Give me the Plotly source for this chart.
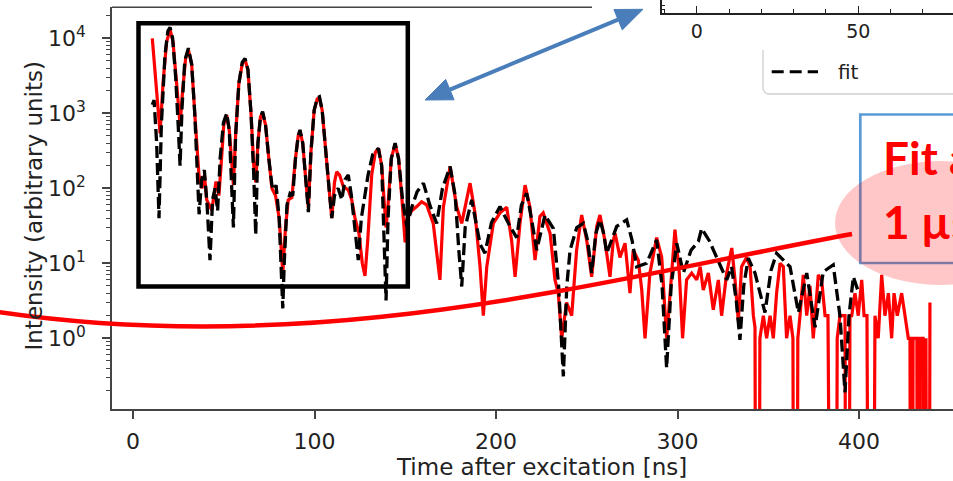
import plotly.graph_objects as go

# ---------------- data ----------------
fit_t = [10.6, 11.6, 13.0, 14.3, 15.6, 17.6, 19.2, 20.4, 21.8, 23.5, 25.0, 25.9, 27.0, 28.5, 30.5,
         32.3, 34.0, 35.3, 36.4, 37.8, 39.3, 40.8, 42.4, 43.8, 45.2, 46.6, 48.0, 49.8, 51.6, 53.0,
         54.3, 55.3, 56.5, 58.3, 60.2, 61.7, 63.3, 65.0, 66.5, 67.6, 68.8, 70.2, 71.4, 73.0, 74.8,
         76.5, 77.5, 78.8, 80.5, 81.8, 82.5, 83.3, 84.8, 86.5, 88.0, 89.5, 91.0, 92.0, 93.5, 95.3,
         96.6, 98.0, 99.8, 101.5, 102.7, 104.2, 106.2, 108.0, 109.5, 111.0, 113.0, 115.0, 116.8,
         118.6, 120.3, 122.3, 124.1, 125.8, 127.5, 129.5, 132.0, 135.2, 137.0, 138.5, 139.4, 140.5,
         142.3, 144.4, 146.3, 148.5, 150.8, 153.5, 156.5, 160.0, 163.5, 167.3, 170.5, 174.7, 177.5,
         179.5, 181.1, 183.0, 186.6, 191.2, 193.9, 197.5, 202.2, 207.7, 211.4, 214.0, 216.9, 219.5,
         222.4, 227.0, 231.6, 234.5, 237.1, 239.0, 240.8, 244.5, 248.1, 250.5, 252.7, 255.0, 257.3,
         259.3, 261.0, 266.5, 272.0, 275.0, 277.5, 283.0, 288.5, 291.5, 294.0, 296.5, 299.6, 303.2,
         307.5, 311.5, 313.3, 317.5, 321.6, 327.1, 329.8, 332.5, 334.4, 336.5, 339.0, 342.7, 348.2,
         351.5, 354.6, 362.0, 366.6, 371.2, 375.8, 380.3, 385.8, 389.5, 392.3, 394.5, 396.9, 399.6]
fit_v = [1300, 1500, 400, 40, 700, 6000, 12500, 14000, 10000, 3000, 600, 200, 1200, 5000, 7400,
         4500, 1000, 150, 45, 130, 175, 60, 11, 70, 100, 50, 250, 750, 1000, 600,
         120, 30, 500, 2500, 4800, 5400, 3800, 1000, 150, 24, 400, 900, 1050, 700, 250,
         110, 95, 110, 40, 8, 2.5, 10, 60, 85, 80, 250, 500, 600, 400, 120,
         48, 300, 1100, 1600, 1660, 1100, 350, 100, 40, 80, 100, 70, 130,
         150, 80, 25, 11, 40, 80, 150, 280, 340, 200, 20, 3.2, 40,
         250, 400, 250, 70, 31, 55, 90, 117, 60, 34, 100, 195, 80,
         15, 4.9, 30, 70, 18, 13.6, 35, 57, 31, 22, 60, 86, 40,
         15, 44, 29, 5, 0.31, 5, 15, 30, 34, 20, 7.4, 25, 38,
         25, 13.6, 31, 38, 20, 9, 10, 20.5, 5, 0.4, 5, 18.5, 7.4,
         15, 19.5, 29, 20, 12, 6, 9, 3, 0.95, 5, 11.7, 7.4, 2.2,
         8, 13.6, 9, 2.2, 7.4, 1.4, 7.7, 9.5, 2, 0.19, 2, 6.6, 4.2]

data_t = [10.6, 14.9, 16.5, 18.5, 20.4, 22.0, 24.0, 25.9, 27.3, 29.0, 30.5, 32.3, 34.0, 35.3,
          36.3, 38.0, 39.3, 40.6, 43.4, 45.7, 47.3, 48.5, 50.0, 51.6, 53.0, 54.5, 55.3, 56.5,
          58.3, 60.2, 61.7, 63.3, 65.0, 66.5, 67.6, 68.8, 70.2, 71.4, 73.0, 74.8, 76.5, 78.5,
          80.5, 82.5, 84.0, 85.5, 87.5, 89.5, 91.0, 92.0, 93.5, 95.3, 96.6, 98.0, 99.8, 101.5,
          102.7, 104.2, 106.2, 108.0, 109.5, 111.0, 112.2, 113.8, 115.9, 118.6, 120.5, 122.3,
          124.5, 126.3, 127.8, 129.3, 131.5, 133.5, 135.2, 137.0, 138.5, 139.4, 140.5, 142.3,
          144.4, 146.3, 148.2, 149.9, 150.8, 153.5, 156.3, 159.0, 161.8, 165.4, 169.1, 171.0,
          174.7, 178.3, 181.1, 185.7, 188.4, 191.2, 193.0, 194.9, 198.5, 202.2, 205.9, 208.6,
          210.5, 213.2, 216.0, 218.7, 221.5, 224.2, 226.0, 229.8, 232.5, 234.3, 236.2, 238.9,
          241.7, 244.4, 247.2, 250.0, 252.7, 255.5, 257.3, 260.0, 262.8, 264.6, 265.6, 268.3,
          271.1, 273.8, 275.6, 278.4, 280.3, 282.1, 284.8, 288.5, 291.3, 294.0, 296.8, 298.6,
          301.0, 302.8, 305.0, 307.8, 310.6, 312.5, 314.2, 317.0, 319.7, 322.5, 324.3, 327.1,
          329.9, 331.7, 333.5, 335.3, 338.1, 340.0, 341.8, 342.7, 344.0, 345.4, 347.3, 349.1,
          351.0, 352.8, 354.6, 356.5, 358.3, 360.1, 362.0, 363.6, 365.0, 366.3, 367.5, 369.3,
          371.2, 373.0, 374.8, 377.6, 379.4, 381.3, 382.9, 384.5, 386.5, 388.0, 389.5, 392.3,
          393.6, 395.0, 396.0, 397.8, 399.6, 401.5, 402.8, 404.4, 406.6, 408.8, 410.6, 412.5,
          414.3, 416.2, 418.0, 419.3, 421.1, 423.5, 425.3, 427.2, 428.1, 429.0, 429.8, 431.9,
          432.7, 433.6, 435.3, 436.1, 436.9, 438.0, 439.1]
data_v = [10000, 540, 2500, 9000, 13000, 9000, 2500, 700, 2000, 5500, 7000, 4500, 1000, 300,
          150, 100, 150, 70, 51, 123, 80, 200, 700, 950, 600, 200, 110, 500,
          2500, 4600, 5200, 3800, 1000, 200, 120, 400, 900, 1000, 700, 250, 100, 80,
          40, 7.4, 30, 70, 75, 250, 500, 580, 400, 120, 55, 300, 1100, 1550,
          1600, 1100, 350, 100, 40, 120, 166, 150, 105, 95, 70, 40,
          25, 10, 6.8, 20, 150, 300, 340, 200, 60, 30, 60, 250,
          390, 250, 70, 19, 38, 50, 57, 66, 60, 34, 6, 56,
          195, 57, 34, 117, 47, 9, 2, 9, 34, 47, 56, 20,
          6.6, 34, 110, 56, 11, 42, 47, 25, 6, 4, 1, 3,
          2, 15, 44, 20, 6.6, 31, 44, 20, 6.6, 20, 25, 12,
          18.5, 4, 15, 11, 4.4, 1, 7.4, 22, 12, 1, 7.4, 28,
          7.4, 1, 6, 7.4, 6, 9, 4.4, 7.4, 2.4, 6, 2, 7.4,
          16, 6, 1.7, 9, 12, 9, 2, 1.4, 0, 1, 2, 1,
          2, 1, 4, 10, 9, 1, 2, 1, 0, 1, 2, 7,
          2, 5, 1, 7, 6, 2, 2, 0, 0, 1, 2, 2,
          0, 2, 2, 4, 2, 6, 2, 2, 0, 2, 1, 7,
          2, 4, 1, 4, 2, 4, 2, 1, 1, 0, 1, 1,
          0, 1, 1, 0, 1, 0, 3]

x_ticks = [0, 100, 200, 300, 400]
y_ticks = [1, 10, 100, 1000, 10000]
y_tick_text = ["10<sup>0</sup>", "10<sup>1</sup>", "10<sup>2</sup>", "10<sup>3</sup>", "10<sup>4</sup>"]
inset_ticks = [0, 50]
inset_minor = [-10, 10, 20, 30, 40, 60, 70]

# zero counts are clipped far below the axis (as on a log plot)
CLIP = 1e-12
data_plot = [v if v > 0 else CLIP for v in data_v]

# ---------------- geometry helpers ----------------
L, R, T, B = 112, 0, 0, 72
FW, FH = 953, 481
PW, PH = FW - L - R, FH - T - B


def P(px, py):
    return (px - L) / PW, (FH - B - py) / PH


def path(points, close=False):
    s = ""
    for i, (px, py) in enumerate(points):
        x, y = P(px, py)
        s += ("M" if i == 0 else "L") + f"{x:.5f},{y:.5f} "
    if close:
        s += "Z"
    return s


FONT = "DejaVu Sans"
INK = "#222222"

fig = go.Figure()
fig.add_trace(go.Scatter(x=data_t, y=data_plot, mode="lines", name="data",
                         line=dict(color="#ff0000", width=3.2), showlegend=False))
fig.add_trace(go.Scatter(x=fit_t, y=fit_v, mode="lines", name="fit",
                         line=dict(color="black", width=3.3, dash="12px,5px"), showlegend=False))
# empty trace so that the inset's axes are drawn
fig.add_trace(go.Scatter(x=[None], y=[None], xaxis="x2", yaxis="y2", mode="lines",
                         showlegend=False, hoverinfo="skip"))

shapes = []
# top spine fragment
x0, y0 = P(112, 7.3)
x1, _ = P(592, 7.3)
shapes.append(dict(type="line", xref="paper", yref="paper", x0=x0, y0=y0, x1=x1, y1=y0,
                   line=dict(color="#444", width=1.5)))
# legend box fragment of the inset
shapes.append(dict(type="path", xref="paper", yref="paper",
                   path=path([(763, 50), (763, 89), (765, 92.5), (768, 94), (1000, 94)]),
                   line=dict(color="#cfcfcf", width=1.3)))
xa, ya = P(771.7, 71.7)
xb, _ = P(818, 71.7)
shapes.append(dict(type="line", xref="paper", yref="paper", x0=xa, y0=ya, x1=xb, y1=ya,
                   line=dict(color="black", width=3, dash="12px,6px")))
# black highlight rectangle
rx0, ry0 = P(138.5, 23.3)
rx1, ry1 = P(407.8, 286.6)
shapes.append(dict(type="rect", xref="paper", yref="paper", x0=rx0, y0=ry1, x1=rx1, y1=ry0,
                   line=dict(color="black", width=4.5)))
# blue double arrow
BLUE = "#4A7EBB"
shapes.append(dict(type="path", xref="paper", yref="paper",
                   path=path([(449.9, 89.6), (618.1, 19.7)]), line=dict(color=BLUE, width=4)))
shapes.append(dict(type="path", xref="paper", yref="paper",
                   path=path([(425, 100), (454.1, 99.8), (445.7, 79.4)], close=True),
                   fillcolor=BLUE, line=dict(color=BLUE, width=1)))
shapes.append(dict(type="path", xref="paper", yref="paper",
                   path=path([(643, 9.3), (622.3, 29.9), (613.9, 9.5)], close=True),
                   fillcolor=BLUE, line=dict(color=BLUE, width=1)))
# red hand-drawn curve (cubic bezier)
c = [P(-5, 311.5), P(320, 360), P(602, 280), P(852, 234)]
shapes.append(dict(type="path", xref="paper", yref="paper",
                   path=f"M{c[0][0]:.5f},{c[0][1]:.5f} C{c[1][0]:.5f},{c[1][1]:.5f} "
                        f"{c[2][0]:.5f},{c[2][1]:.5f} {c[3][0]:.5f},{c[3][1]:.5f}",
                   line=dict(color="#ff0000", width=4.5)))
# blue text box
bx0, by0 = P(860.3, 114.5)
bx1, by1 = P(1010, 263)
shapes.append(dict(type="rect", xref="paper", yref="paper", x0=bx0, y0=by1, x1=bx1, y1=by0,
                   line=dict(color="#5B9BD5", width=2.7)))
# pink ellipse
ex0, ey0 = P(835, 161)
ex1, ey1 = P(1047, 285)
shapes.append(dict(type="circle", xref="paper", yref="paper", x0=ex0, y0=ey1, x1=ex1, y1=ey0,
                   fillcolor="rgba(255,0,0,0.22)", line=dict(width=0)))

annotations = []


def ann(text, px, py, size, xanchor="center", yanchor="middle", angle=0, color=INK, family=FONT):
    x, y = P(px, py)
    annotations.append(dict(text=text, x=x, y=y, xref="paper", yref="paper", showarrow=False,
                            xanchor=xanchor, yanchor=yanchor, textangle=angle,
                            font=dict(family=family, size=size, color=color)))


ann("Intensity (arbitrary units)", 33, 206.5, 23, angle=-90)
ann("Time after excitation [ns]", 541, 467, 23)
ann("fit", 836, 72, 20, xanchor="left")
ann("<b>Fit after</b>", 881, 157, 46, xanchor="left", color="#ff0000", family="Lato")
ann("<b>1 µs</b>", 881, 221, 46, xanchor="left", color="#ff0000", family="Lato")

y_minor = [k * 10.0 ** n for n in range(-1, 5) for k in range(2, 10)]
top_dom = (FH - B - 7.3) / PH

fig.update_layout(
    width=FW, height=FH, margin=dict(l=L, r=R, t=T, b=B, pad=0),
    paper_bgcolor="white", plot_bgcolor="white", showlegend=False,
    shapes=shapes, annotations=annotations,
    xaxis=dict(range=[-11.6, 451.8], domain=[0, 1], anchor="y", showgrid=False, zeroline=False,
               showline=True, linecolor="#444", linewidth=1.5, ticks="outside", ticklen=8,
               tickwidth=1.5, tickcolor="#444", tickmode="array", tickvals=x_ticks,
               tickfont=dict(family=FONT, size=22, color=INK), ticklabelstandoff=4),
    yaxis=dict(type="log", range=[-0.943, 4.413], domain=[0, top_dom], anchor="x",
               showgrid=False, zeroline=False, showline=True, linecolor="#444", linewidth=1.5,
               ticks="outside", ticklen=8, tickwidth=1.5, tickcolor="#444",
               tickmode="array", tickvals=y_ticks, ticktext=y_tick_text,
               tickfont=dict(family=FONT, size=22, color=INK), ticklabelstandoff=12,
               minor=dict(ticks="outside", ticklen=4, tickwidth=1, tickcolor="#444",
                          tickmode="array", tickvals=y_minor, showgrid=False)),
    xaxis2=dict(range=[-10.83, 79.3], domain=[P(661.7, 0)[0], 1], anchor="y2", showgrid=False,
                zeroline=False, showline=True, linecolor="#222", linewidth=1.5,
                ticks="inside", ticklen=8, tickwidth=1.3, tickcolor="#222",
                tickmode="array", tickvals=inset_ticks,
                tickfont=dict(family=FONT, size=19, color=INK),
                minor=dict(ticks="inside", ticklen=5, tickwidth=1.2, tickcolor="#222",
                           tickmode="array", tickvals=inset_minor, showgrid=False)),
    yaxis2=dict(range=[0, 1], domain=[(FH - B - 13.3) / PH, 1], anchor="x2", showgrid=False,
                zeroline=False, showline=True, linecolor="#222", linewidth=1.5,
                ticks="inside", ticklen=4, tickwidth=1, tickcolor="#222",
                tickmode="array", tickvals=[0.25, 0.62, 0.96], showticklabels=False),
)

fig.write_html("out.html")
